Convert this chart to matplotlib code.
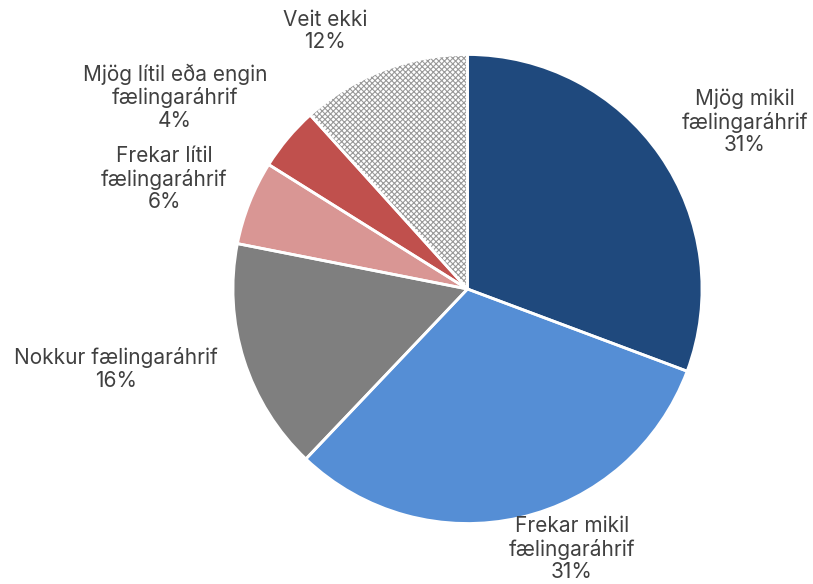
import matplotlib
matplotlib.use("Agg")
import matplotlib.pyplot as plt

categories = ["Mjög mikil\nfælingaráhrif", "Frekar mikil\nfælingaráhrif", "Nokkur fælingaráhrif",
              "Frekar lítil\nfælingaráhrif", "Mjög lítil eða engin\nfælingaráhrif", "Veit ekki"]
values = [30.7, 31.4, 16.0, 5.8, 4.4, 11.7]
colors = ["#1F497D", "#558ED5", "#7F7F7F", "#D99694", "#C0504D", "#FFFFFF"]
label_pos = [(1.183, 0.712), (0.446, -1.109), (-1.499, -0.341),
             (-1.294, 0.469), (-1.247, 0.819), (-0.608, 1.100)]

plt.rcParams['font.family'] = ['Inter', 'DejaVu Sans']
plt.rcParams['hatch.linewidth'] = 0.8

fig = plt.figure(figsize=(8.13, 5.84), dpi=100)
ax = fig.add_axes([0, 0, 1, 1])
cx, cy, r = 467.5, 289, 234.5
W, H = 813, 584

wedges, _ = ax.pie(values, colors=colors, startangle=90, counterclock=False,
                   wedgeprops=dict(edgecolor='none', linewidth=0))
wedges[-1].set_hatch('xxxxxx')
wedges[-1].set_edgecolor('#999999')
wedges[-1].set_linewidth(0)
# white separators on top
ax.pie(values, colors=['none'] * len(values), startangle=90, counterclock=False,
       wedgeprops=dict(edgecolor='white', linewidth=2, fill=False))

total = sum(values)
for cat, v, (x, y) in zip(categories, values, label_pos):
    ax.text(x, y, f"{cat}\n{round(v / total * 100):.0f}%", ha='center', va='center',
            fontsize=15, color='#404040', linespacing=1.15)

ax.set_xlim(-cx / r, (W - cx) / r)
ax.set_ylim(-(H - cy) / r, cy / r)
ax.set_aspect('auto')
ax.axis('off')
fig.savefig("out.png", dpi=100, facecolor='white')
